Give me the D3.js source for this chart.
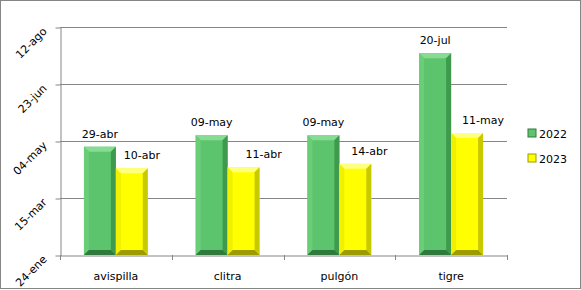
<!DOCTYPE html>
<html lang="es">
<head>
<meta charset="utf-8">
<title>Fechas plagas 2022 / 2023</title>
<style type="text/css">
    body { margin: 0; background: #fff; }
    svg text { font-family: "DejaVu Sans", Verdana, sans-serif; font-size: 11px; fill: #000; }
</style>
<script src="https://d3js.org/d3.v7.min.js"></script>
</head>
<body>
<div id="chart"></div>
<script type="text/javascript">
    // datos
    var categories = ["avispilla", "clitra", "pulgón", "tigre"];
    var series = ["2022", "2023"];
    var v2022 = ["2023-04-29", "2023-05-09", "2023-05-09", "2023-07-20"];
    var v2023 = ["2023-04-10", "2023-04-11", "2023-04-14", "2023-05-11"];
    var yTicks = ["2023-01-24", "2023-03-15", "2023-05-04", "2023-06-23", "2023-08-12"];

    var W = 581, H = 290,
        m = {top: 27, left: 60, right: 74, bottom: 35};
    // etiquetas 2023 movidas a mano (como en la hoja original)
    var shift2023 = [10, 20, 14, 16];

    var parse = d3.timeParse("%Y-%m-%d");
    var es = d3.timeFormatLocale({
        dateTime: "%x %X", date: "%d/%m/%Y", time: "%H:%M:%S",
        periods: ["AM", "PM"],
        days: ["domingo", "lunes", "martes", "miércoles", "jueves", "viernes", "sábado"],
        shortDays: ["dom", "lun", "mar", "mié", "jue", "vie", "sáb"],
        months: ["enero", "febrero", "marzo", "abril", "mayo", "junio", "julio", "agosto", "septiembre", "octubre", "noviembre", "diciembre"],
        shortMonths: ["ene", "feb", "mar", "abr", "may", "jun", "jul", "ago", "sep", "oct", "nov", "dic"]
    });
    var fmt = es.format("%d-%b");

    var colors = {
        "2022": {main: "#5cc46c", light: "#86dc92", dark: "#2f7a3c", side: "#3f9a4e", left: "#6acd78"},
        "2023": {main: "#ffff00", light: "#ffff80", dark: "#9c9c00", side: "#c9c900", left: "#f0f000"}
    };

    var svg = d3.select("#chart").append("svg")
        .attr("width", W).attr("height", H);

    svg.append("rect").attr("x", 0.5).attr("y", 0.5)
        .attr("width", W - 1).attr("height", H - 2)
        .attr("fill", "#fff").attr("stroke", "#868686");

    var x = d3.scaleBand().domain(categories).range([m.left, W - m.right]);
    var x1 = d3.scaleBand().domain(series).range([0, x.bandwidth()]).paddingOuter(0.75);
    var y = d3.scaleTime()
        .domain([parse(yTicks[0]), parse(yTicks[yTicks.length - 1])])
        .range([H - m.bottom, m.top]);

    // grid
    svg.append("g").selectAll("line").data(yTicks.slice(1)).enter().append("line")
        .attr("x1", m.left).attr("x2", W - m.right)
        .attr("y1", function (d) { return Math.round(y(parse(d))) + 0.5; })
        .attr("y2", function (d) { return Math.round(y(parse(d))) + 0.5; })
        .attr("stroke", "#868686");

    // eje y
    var yAxis = d3.axisLeft(y).tickValues(yTicks.map(parse)).tickFormat(fmt).tickSize(5).tickSizeOuter(0);
    var gy = svg.append("g").attr("transform", "translate(" + (m.left + 0.5) + ",0.5)").call(yAxis);
    gy.select(".domain").attr("stroke", "#868686");
    gy.selectAll(".tick line").attr("stroke", "#868686");
    gy.selectAll(".tick text")
        .attr("font-family", null).attr("font-size", null)
        .attr("text-anchor", "end")
        .attr("x", 0).attr("dy", 0)
        .attr("transform", "translate(-13,4) rotate(-45)");

    // eje x
    var xAxis = d3.axisBottom(x).tickSize(0);
    var gx = svg.append("g").attr("transform", "translate(0," + (H - m.bottom + 0.5) + ")").call(xAxis);
    gx.select(".domain").attr("stroke", "#868686");
    gx.selectAll(".tick text").attr("font-family", null).attr("font-size", null).attr("dy", "1.95em");
    svg.append("g").selectAll("line").data(d3.range(categories.length + 1)).enter().append("line")
        .attr("x1", function (i) { return Math.round(m.left + i * x.bandwidth()) + 0.5; })
        .attr("x2", function (i) { return Math.round(m.left + i * x.bandwidth()) + 0.5; })
        .attr("y1", H - m.bottom).attr("y2", H - m.bottom + 5)
        .attr("stroke", "#868686");

    // barras
    var rows = [];
    categories.forEach(function (c, i) {
        rows.push({cat: c, s: "2022", v: parse(v2022[i]), dx: 0});
        rows.push({cat: c, s: "2023", v: parse(v2023[i]), dx: shift2023[i]});
    });

    var b = 5;
    var bars = svg.append("g").selectAll("g").data(rows).enter().append("g")
        .attr("transform", function (d) {
            return "translate(" + (x(d.cat) + x1(d.s)) + "," + y(d.v) + ")";
        });
    bars.each(function (d) {
        var g = d3.select(this), w = x1.bandwidth(), h = y.range()[0] - y(d.v), c = colors[d.s];
        g.append("rect").attr("width", w).attr("height", h).attr("fill", c.main);
        g.append("polygon").attr("fill", c.light)
            .attr("points", [[0, 0], [w, 0], [w - b, b], [b, b]].join(" "));
        g.append("polygon").attr("fill", c.left)
            .attr("points", [[0, 0], [b, b], [b, h - b], [0, h]].join(" "));
        g.append("polygon").attr("fill", c.side)
            .attr("points", [[w, 0], [w, h], [w - b, h - b], [w - b, b]].join(" "));
        g.append("polygon").attr("fill", c.dark)
            .attr("points", [[0, h], [b, h - b], [w - b, h - b], [w, h]].join(" "));
    });

    // etiquetas
    svg.append("g").selectAll("text").data(rows).enter().append("text")
        .attr("x", function (d) { return x(d.cat) + x1(d.s) + x1.bandwidth() / 2 + d.dx; })
        .attr("y", function (d) { return y(d.v) - 9; })
        .attr("text-anchor", "middle")
        .text(function (d) { return fmt(d.v); });

    // leyenda
    var lg = svg.append("g").selectAll("g").data(series).enter().append("g")
        .attr("transform", function (d, i) { return "translate(528," + (129 + i * 25) + ")"; });
    lg.append("rect").attr("width", 8).attr("height", 8)
        .attr("fill", function (d) { return colors[d].main; })
        .attr("stroke", function (d) { return colors[d].dark; }).attr("stroke-width", 1);
    lg.append("text").attr("x", 11).attr("y", 8.5).text(function (d) { return d; });
</script>
</body>
</html>
